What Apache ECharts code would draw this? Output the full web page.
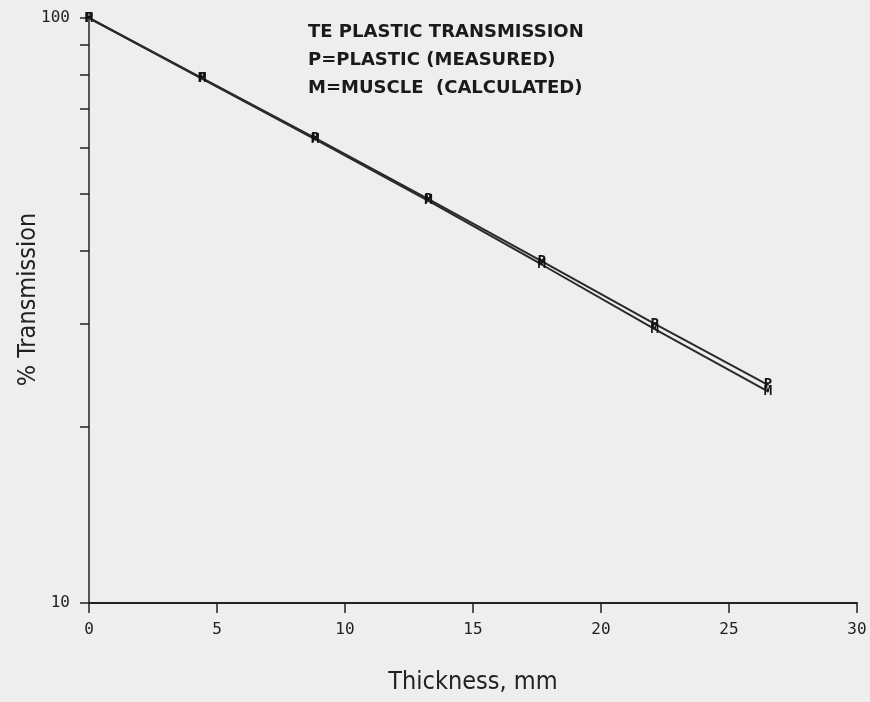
<!DOCTYPE html>
<html>
<head>
<meta charset="utf-8">
<script src="https://cdn.jsdelivr.net/npm/echarts@6/dist/echarts.min.js"></script>
<style>
  html, body { margin: 0; padding: 0; background: #eeeeee; }
  #main { width: 870px; height: 702px; }
</style>
</head>
<body>
<div id="main"></div>
<script>
var thickness = [0, 4.42, 8.84, 13.26, 17.68, 22.1, 26.52];
var plastic = [100, 78.9, 62.3, 49.0, 38.4, 30.0, 23.6];
var muscle = [100, 78.7, 62.0, 48.7, 37.9, 29.4, 23.0];
var yTicks = [10, 20, 30, 40, 50, 60, 70, 80, 90, 100];
var yLabels = [10, 100];

function pairs(xs, ys) {
  return xs.map(function (x, i) { return [x, ys[i]]; });
}

var myChart = echarts.init(document.getElementById('main'));
var ink = '#222222';
var mono = "'DejaVu Sans Mono', monospace";
var cond = "'DejaVu Sans Condensed', 'DejaVu Sans', sans-serif";

myChart.setOption({
  backgroundColor: '#eeeeee',
  animation: false,
  title: {
    text: 'TE PLASTIC TRANSMISSION\nP=PLASTIC (MEASURED)\nM=MUSCLE  (CALCULATED)',
    left: 303,
    top: 13,
    textStyle: {
      fontFamily: "'DejaVu Sans', sans-serif",
      fontSize: 18,
      fontWeight: 'bold',
      color: '#1a1a1a',
      lineHeight: 28
    }
  },
  grid: {
    left: 89,
    right: 13,
    top: 18,
    bottom: 99,
    outerBoundsMode: 'none'
  },
  xAxis: {
    type: 'value',
    min: 0,
    max: 30,
    interval: 5,
    name: 'Thickness, mm',
    nameLocation: 'middle',
    nameGap: 67,
    nameMoveOverlap: false,
    nameTextStyle: {
      fontFamily: cond,
      fontSize: 25,
      color: ink
    },
    axisLine: { lineStyle: { color: ink, width: 2 } },
    axisTick: { inside: false, length: 10, lineStyle: { color: ink, width: 1.5 } },
    axisLabel: { fontFamily: mono, fontSize: 16, color: ink, margin: 19 },
    splitLine: { show: false }
  },
  yAxis: {
    type: 'log',
    min: 10,
    max: 100,
    name: '% Transmission',
    nameLocation: 'middle',
    nameGap: 48,
    nameMoveOverlap: false,
    nameTextStyle: {
      fontFamily: cond,
      fontSize: 25,
      color: ink,
      padding: [0, 0, 0, 22]
    },
    axisLine: { lineStyle: { color: ink, width: 1.5 } },
    axisTick: {
      length: 9,
      customValues: yTicks,
      lineStyle: { color: ink, width: 1.5 }
    },
    axisLabel: {
      customValues: yLabels,
      fontFamily: mono,
      fontSize: 16,
      color: ink,
      margin: 19
    },
    splitLine: { show: false }
  },
  series: [
    {
      name: 'P',
      type: 'line',
      data: pairs(thickness, plastic),
      symbol: 'circle',
      symbolSize: 2,
      lineStyle: { color: '#2a2a2a', width: 2 },
      itemStyle: { color: '#2a2a2a' },
      label: {
        show: true,
        position: 'inside',
        formatter: 'P',
        fontFamily: mono,
        fontWeight: 'bold',
        fontSize: 14,
        color: '#111111'
      }
    },
    {
      name: 'M',
      type: 'line',
      data: pairs(thickness, muscle),
      symbol: 'circle',
      symbolSize: 2,
      lineStyle: { color: '#2a2a2a', width: 2 },
      itemStyle: { color: '#2a2a2a' },
      label: {
        show: true,
        position: 'inside',
        formatter: 'M',
        fontFamily: mono,
        fontWeight: 'bold',
        fontSize: 14,
        color: '#111111'
      }
    }
  ]
});
</script>
</body>
</html>
